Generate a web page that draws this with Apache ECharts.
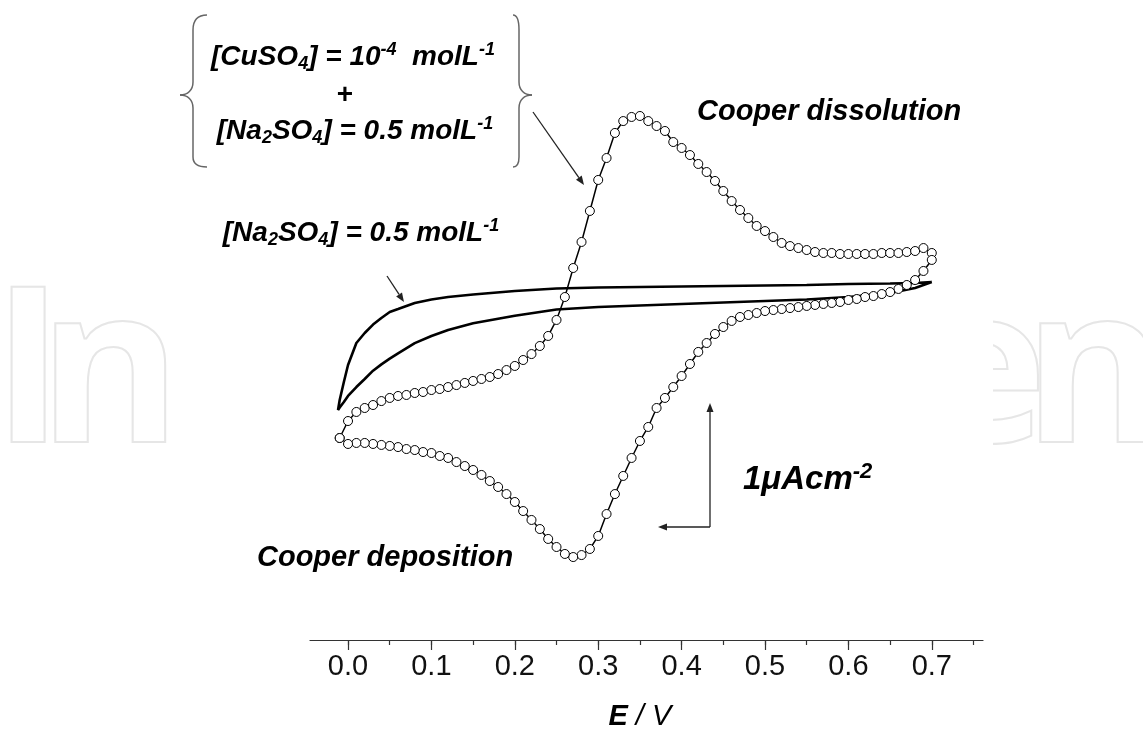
<!DOCTYPE html>
<html>
<head>
<meta charset="utf-8">
<title>Cu deposition / dissolution CV</title>
<script src="https://cdn.jsdelivr.net/npm/echarts@6/dist/echarts.min.js"></script>
<style>
html, body { margin: 0; padding: 0; background: #fff; }
#chart { width: 1143px; height: 751px; }
</style>
</head>
<body>
<div id="chart"></div>
<script>
// potential of each recorded point of the CuSO4 + Na2SO4 voltammogram (V)
var potentials = [-0.01, 0.00, 0.01, 0.02, 0.03, 0.04, 0.05, 0.06, 0.07, 0.08, 0.09,
    0.10, 0.11, 0.12, 0.13, 0.14, 0.15, 0.16, 0.17, 0.18, 0.19,
    0.20, 0.21, 0.22, 0.23, 0.24, 0.25, 0.26, 0.27, 0.28, 0.29,
    0.30, 0.31, 0.32, 0.33, 0.34, 0.35, 0.36, 0.37, 0.38, 0.39,
    0.40, 0.41, 0.42, 0.43, 0.44, 0.45, 0.46, 0.47, 0.48, 0.49,
    0.50, 0.51, 0.52, 0.53, 0.54, 0.55, 0.56, 0.57, 0.58, 0.59,
    0.60, 0.61, 0.62, 0.63, 0.64, 0.65, 0.66, 0.67, 0.68, 0.69, 0.70];

// current (uA cm-2), upper branch (copper dissolution)
var cuAnodic = [-1.371, -1.234, -1.161, -1.129, -1.105, -1.073, -1.048, -1.032, -1.024, -1.008, -1.000,
    -0.984, -0.976, -0.960, -0.944, -0.927, -0.911, -0.895, -0.879, -0.855, -0.823,
    -0.790, -0.742, -0.694, -0.629, -0.548, -0.419, -0.234, 0.000, 0.210, 0.460,
    0.710, 0.887, 1.089, 1.185, 1.218, 1.226, 1.185, 1.145, 1.105, 1.016,
    0.968, 0.911, 0.839, 0.774, 0.702, 0.621, 0.540, 0.468, 0.403, 0.339,
    0.298, 0.250, 0.202, 0.177, 0.161, 0.145, 0.129, 0.121, 0.121, 0.113,
    0.113, 0.113, 0.113, 0.113, 0.121, 0.121, 0.121, 0.129, 0.137, 0.161, 0.121];

// current (uA cm-2), lower branch (copper deposition)
var cuCathodic = [-1.371, -1.419, -1.411, -1.411, -1.419, -1.427, -1.435, -1.444, -1.460, -1.468, -1.484,
    -1.492, -1.516, -1.532, -1.565, -1.597, -1.629, -1.669, -1.718, -1.766, -1.823,
    -1.887, -1.960, -2.032, -2.105, -2.185, -2.250, -2.306, -2.331, -2.315, -2.266,
    -2.161, -1.984, -1.823, -1.677, -1.532, -1.395, -1.282, -1.129, -1.048, -0.960,
    -0.871, -0.774, -0.677, -0.605, -0.532, -0.476, -0.427, -0.395, -0.379, -0.363,
    -0.347, -0.339, -0.331, -0.323, -0.315, -0.306, -0.298, -0.290, -0.282, -0.274,
    -0.258, -0.250, -0.234, -0.226, -0.210, -0.194, -0.169, -0.137, -0.097, -0.024, 0.065];

// blank electrolyte (Na2SO4 only)
var blankPotentials = [-0.012, -0.01, -0.005, 0.00, 0.01, 0.02, 0.03, 0.04, 0.05, 0.06, 0.08,
    0.10, 0.12, 0.15, 0.20, 0.25, 0.30, 0.35, 0.40, 0.45, 0.50, 0.55, 0.60, 0.65, 0.68, 0.70];
var blankUpper = [-1.145, -1.065, -0.919, -0.782, -0.605, -0.524, -0.456, -0.403, -0.355, -0.331, -0.282,
    -0.254, -0.234, -0.214, -0.185, -0.165, -0.157, -0.153, -0.149, -0.145, -0.141, -0.137, -0.129, -0.125, -0.121, -0.113];
var blankLower = [-1.145, -1.125, -1.081, -1.032, -0.960, -0.895, -0.828, -0.777, -0.731, -0.688, -0.606,
    -0.548, -0.500, -0.446, -0.385, -0.335, -0.315, -0.302, -0.290, -0.278, -0.266, -0.254, -0.234, -0.202, -0.161, -0.113];

var tickLabels = ['0.0', '0.1', '0.2', '0.3', '0.4', '0.5', '0.6', '0.7'];

var cuData = potentials.map(function (e, i) { return [e, cuAnodic[i]]; });
for (var i = potentials.length - 1; i >= 0; i--) {
    cuData.push([potentials[i], cuCathodic[i]]);
}
var blankData = [];
for (var j = blankPotentials.length - 1; j >= 0; j--) {
    blankData.push([blankPotentials[j], blankUpper[j]]);
}
for (var k = 1; k < blankPotentials.length; k++) {
    blankData.push([blankPotentials[k], blankLower[k]]);
}

var FONT = 'Liberation Sans';
var formulaRich = {
    b: { fontFamily: FONT, fontSize: 28, fontWeight: 'bold', fontStyle: 'italic', lineHeight: 32, fill: '#000' },
    sub: { fontFamily: FONT, fontSize: 18, fontWeight: 'bold', fontStyle: 'italic', lineHeight: 14, verticalAlign: 'bottom', fill: '#000' },
    sup: { fontFamily: FONT, fontSize: 18, fontWeight: 'bold', fontStyle: 'italic', lineHeight: 20, verticalAlign: 'top', fill: '#000' }
};

function arrow(x1, y1, x2, y2) {
    var dx = x2 - x1, dy = y2 - y1;
    var len = Math.sqrt(dx * dx + dy * dy);
    var ux = dx / len, uy = dy / len;
    var bx = x2 - ux * 9, by = y2 - uy * 9;
    return [
        { type: 'line', z: 10, shape: { x1: x1, y1: y1, x2: bx, y2: by }, style: { stroke: '#222', lineWidth: 1.3 } },
        { type: 'polygon', z: 10, shape: { points: [[x2, y2], [bx - uy * 3.5, by + ux * 3.5], [bx + uy * 3.5, by - ux * 3.5]] }, style: { fill: '#222' } }
    ];
}

// curly brace: xe = x of the two ends, xs = x of the straight parts, xt = x of the tip
function brace(xe, xs, xt) {
    var st = { fill: 'none', stroke: '#666', lineWidth: 1.5 };
    var d = xs - xe, t = xt - xs;
    return [
        { type: 'bezierCurve', z: 10, shape: { x1: xe, y1: 15, cpx1: xe + d * 0.7, cpy1: 15, cpx2: xs, cpy2: 20, x2: xs, y2: 30 }, style: st },
        { type: 'line', z: 10, shape: { x1: xs, y1: 30, x2: xs, y2: 82 }, style: st },
        { type: 'bezierCurve', z: 10, shape: { x1: xs, y1: 82, cpx1: xs, cpy1: 90, cpx2: xs + t * 0.4, cpy2: 95, x2: xt, y2: 95 }, style: st },
        { type: 'bezierCurve', z: 10, shape: { x1: xt, y1: 95, cpx1: xs + t * 0.4, cpy1: 95, cpx2: xs, cpy2: 100, x2: xs, y2: 108 }, style: st },
        { type: 'line', z: 10, shape: { x1: xs, y1: 108, x2: xs, y2: 157 }, style: st },
        { type: 'bezierCurve', z: 10, shape: { x1: xs, y1: 157, cpx1: xs, cpy1: 163, cpx2: xe + d * 0.7, cpy2: 167, x2: xe, y2: 167 }, style: st }
    ];
}

function watermark(ch, x) {
    return {
        type: 'text', z: -10, x: x, y: 380,
        style: { text: ch, fontFamily: 'Open Sans', fontSize: 218, fontWeight: 'bold', fill: 'none', stroke: '#e6e6e6', lineWidth: 2, align: 'center', verticalAlign: 'middle' }
    };
}

var graphics = [
    watermark('I', 28), watermark('n', 110), watermark('e', 983), watermark('n', 1095),
    { type: 'rect', z: -9, shape: { x: 170, y: 0, width: 823, height: 751 }, style: { fill: '#fff' } },
    { type: 'text', z: 10, x: 353, y: 57, style: { text: '{b|[CuSO}{sub|4}{b|] = 10}{sup|-4}{b|  molL}{sup|-1}', rich: formulaRich, align: 'center', verticalAlign: 'middle' } },
    { type: 'text', z: 10, x: 345, y: 95, style: { text: '+', fontFamily: FONT, fontSize: 28, fontWeight: 'bold', fill: '#000', align: 'center', verticalAlign: 'middle' } },
    { type: 'text', z: 10, x: 355, y: 131, style: { text: '{b|[Na}{sub|2}{b|SO}{sub|4}{b|] = 0.5 molL}{sup|-1}', rich: formulaRich, align: 'center', verticalAlign: 'middle' } },
    { type: 'text', z: 10, x: 361, y: 233, style: { text: '{b|[Na}{sub|2}{b|SO}{sub|4}{b|] = 0.5 molL}{sup|-1}', rich: formulaRich, align: 'center', verticalAlign: 'middle' } },
    { type: 'text', z: 10, x: 697, y: 112, style: { text: 'Cooper dissolution', fontFamily: FONT, fontSize: 29, fontWeight: 'bold', fontStyle: 'italic', fill: '#000', align: 'left', verticalAlign: 'middle' } },
    { type: 'text', z: 10, x: 257, y: 558, style: { text: 'Cooper deposition', fontFamily: FONT, fontSize: 29, fontWeight: 'bold', fontStyle: 'italic', fill: '#000', align: 'left', verticalAlign: 'middle' } },
    { type: 'text', z: 10, x: 743, y: 480, style: {
        text: '{m|1\u03bcAcm}{s|-2}', align: 'left', verticalAlign: 'middle',
        rich: {
            m: { fontFamily: FONT, fontSize: 33, fontWeight: 'bold', fontStyle: 'italic', lineHeight: 38, fill: '#000' },
            s: { fontFamily: FONT, fontSize: 22, fontWeight: 'bold', fontStyle: 'italic', lineHeight: 24, verticalAlign: 'top', fill: '#000' }
        } } }
].concat(brace(207, 193, 180), brace(513, 519, 532),
    arrow(533, 112, 584, 185), arrow(387, 276, 404, 302), arrow(710, 527, 710, 403), arrow(710, 527, 658, 527));

var chart = echarts.init(document.getElementById('chart'));
var option = {
    animation: false,
    grid: [
        { left: 310, right: 160, top: 20, bottom: 111 },
        { left: 348, right: 169.5, top: 20, bottom: 111 },
        { left: 348, right: 211.2, top: 20, bottom: 111 }
    ],
    xAxis: [
        {
            gridIndex: 0, type: 'value', min: -0.0456, max: 0.7614,
            axisLine: { show: true, onZero: false, lineStyle: { color: '#333', width: 1.2 } },
            axisTick: { show: false }, axisLabel: { show: false }, splitLine: { show: false }
        },
        {
            gridIndex: 1, type: 'value', min: 0, max: 0.75, interval: 0.05,
            axisLine: { show: false, onZero: false },
            axisTick: { show: true, length: 5, lineStyle: { color: '#333', width: 1.2 } },
            axisLabel: { show: false }, splitLine: { show: false }
        },
        {
            gridIndex: 2, type: 'value', min: 0, max: 0.7, interval: 0.1,
            axisLine: { show: false, onZero: false },
            axisTick: { show: true, length: 10, lineStyle: { color: '#333', width: 1.2 } },
            axisLabel: {
                show: true, margin: 12, color: '#111', fontFamily: FONT, fontSize: 29,
                formatter: function (v) { return tickLabels[Math.round(v * 10)]; }
            },
            splitLine: { show: false },
            name: '{e|E}{v| / V}', nameLocation: 'middle', nameGap: 62,
            nameTextStyle: {
                rich: {
                    e: { fontFamily: FONT, fontSize: 29, fontWeight: 'bold', fontStyle: 'italic', color: '#000' },
                    v: { fontFamily: FONT, fontSize: 29, fontStyle: 'italic', color: '#000' }
                }
            }
        }
    ],
    yAxis: [
        { gridIndex: 0, type: 'value', min: -3, max: 2, show: false },
        { gridIndex: 1, type: 'value', min: 0, max: 1, show: false },
        { gridIndex: 2, type: 'value', min: 0, max: 1, show: false }
    ],
    series: [
        {
            name: 'Na2SO4', type: 'line', xAxisIndex: 0, yAxisIndex: 0, data: blankData,
            symbol: 'none', clip: false, z: 2,
            lineStyle: { color: '#000', width: 2.6 }
        },
        {
            name: 'CuSO4 + Na2SO4', type: 'line', xAxisIndex: 0, yAxisIndex: 0, data: cuData,
            symbol: 'circle', symbolSize: 9, showAllSymbol: true, clip: false, z: 3,
            itemStyle: { color: '#fff', borderColor: '#000', borderWidth: 1 },
            lineStyle: { color: '#000', width: 1.5 }
        }
    ],
    graphic: graphics
};
chart.setOption(option);
</script>
</body>
</html>
